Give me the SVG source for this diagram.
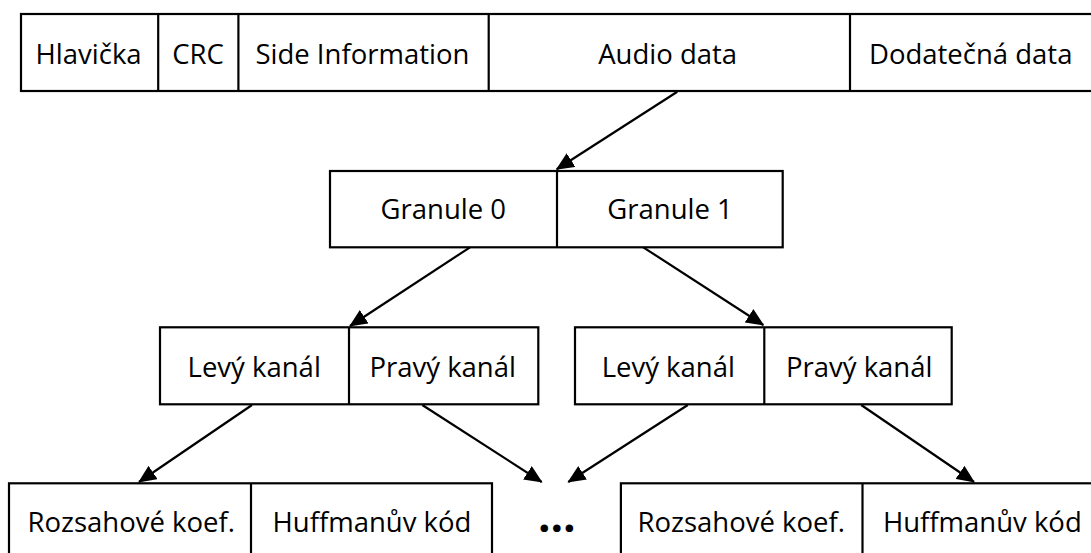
<svg xmlns="http://www.w3.org/2000/svg" width="1091" height="553" viewBox="0 0 1091 553">
<style>
.b{fill:#fff;stroke:#000;stroke-width:2.2}
.d{stroke:#000;stroke-width:2.2}
text{font-family:"Open Sans","Noto Sans",sans-serif;font-size:27.5px;fill:#000;text-anchor:middle}
.e{font-size:44px;font-weight:bold}
.c{stroke:#000;stroke-width:2.2;fill:none;marker-end:url(#ah)}
</style>
<defs>
<marker id="ah" markerUnits="userSpaceOnUse" markerWidth="18" markerHeight="16" refX="17" refY="8" orient="auto" viewBox="0 0 18 16">
<path d="M0,0 L18,8 L0,16 Z" fill="#000"/>
</marker>
</defs>
<rect width="1091" height="553" fill="#fff"/>
<g id="frame">
<rect class="b" x="21" y="14" width="1080" height="77"/>
<line class="d" x1="158.2" y1="14" x2="158.2" y2="91"/>
<line class="d" x1="238.4" y1="14" x2="238.4" y2="91"/>
<line class="d" x1="488.7" y1="14" x2="488.7" y2="91"/>
<line class="d" x1="850" y1="14" x2="850" y2="91"/>
<text x="88.6" y="64">Hlavička</text>
<text x="198" y="64">CRC</text>
<text x="362.4" y="64">Side Information</text>
<text x="667.7" y="64">Audio data</text>
<text x="970.7" y="64">Dodatečná data</text>
</g>
<g id="granules">
<rect class="b" x="330" y="171" width="452.7" height="76.3"/>
<line class="d" x1="557" y1="171" x2="557" y2="247.3"/>
<text x="443.3" y="219.3">Granule 0</text>
<text x="670" y="219.3">Granule 1</text>
</g>
<g id="channels-0">
<rect class="b" x="160" y="327.3" width="378.3" height="77"/>
<line class="d" x1="349" y1="327.3" x2="349" y2="404.3"/>
<text x="254.2" y="376.7">Levý kanál</text>
<text x="442.7" y="376.7">Pravý kanál</text>
</g>
<g id="channels-1">
<rect class="b" x="575" y="327.3" width="376.7" height="77"/>
<line class="d" x1="764.3" y1="327.3" x2="764.3" y2="404.3"/>
<text x="668.3" y="376.7">Levý kanál</text>
<text x="859.2" y="376.7">Pravý kanál</text>
</g>
<g id="coef-0">
<rect class="b" x="9" y="483.3" width="483" height="80"/>
<line class="d" x1="251" y1="483.3" x2="251" y2="563"/>
<text x="131.2" y="532">Rozsahové koef.</text>
<text x="372" y="532">Huffmanův kód</text>
</g>
<g id="ellipsis">
<text class="e" x="556.7" y="532">…</text>
</g>
<g id="coef-1">
<rect class="b" x="620.9" y="483.3" width="480" height="80"/>
<line class="d" x1="862.5" y1="483.3" x2="862.5" y2="563"/>
<text x="741.2" y="532">Rozsahové koef.</text>
<text x="982.3" y="532">Huffmanův kód</text>
</g>
<g id="connectors">
<line class="c" x1="677.3" y1="91.7" x2="556.7" y2="169.3"/>
<line class="c" x1="470" y1="247.3" x2="350" y2="326"/>
<line class="c" x1="643.3" y1="247.3" x2="763.3" y2="325"/>
<line class="c" x1="252" y1="405" x2="139" y2="482"/>
<line class="c" x1="422.3" y1="405" x2="541.7" y2="482"/>
<line class="c" x1="687.8" y1="405" x2="568.3" y2="482"/>
<line class="c" x1="861.2" y1="405" x2="974" y2="482"/>
</g>
</svg>
